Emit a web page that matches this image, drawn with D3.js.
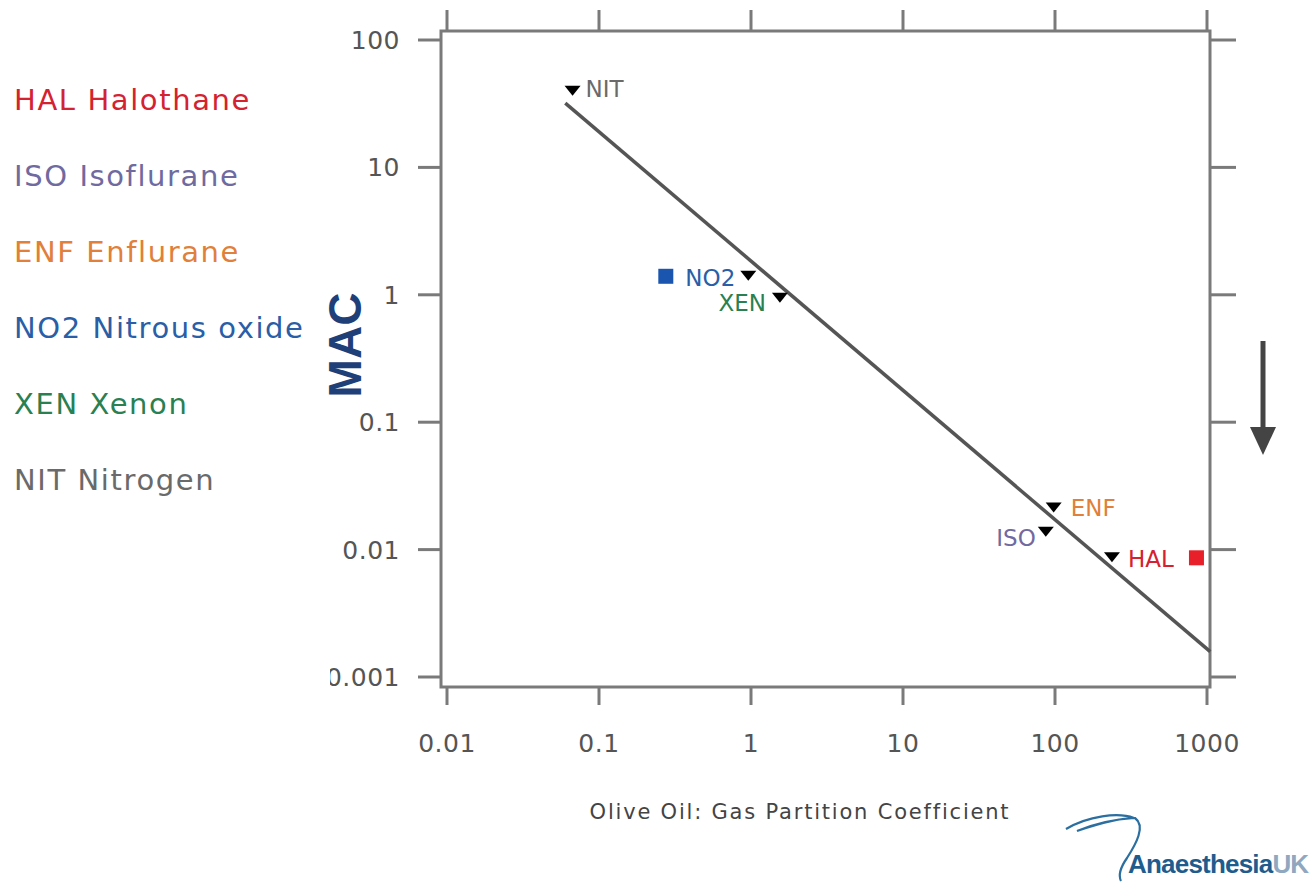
<!DOCTYPE html>
<html>
<head>
<meta charset="utf-8">
<script src="https://cdn.jsdelivr.net/npm/d3@7"></script>
<style>
  body { margin: 0; background: #fff; }
  svg { display: block; }
</style>
</head>
<body>
<div id="main"></div>
<script>
// gases: code, name, olive oil:gas partition coefficient, MAC
const codes = ["HAL", "ISO", "ENF", "NO2", "XEN", "NIT"];
const names = ["Halothane", "Isoflurane", "Enflurane", "Nitrous oxide", "Xenon", "Nitrogen"];
const partition = [237, 87, 98, 0.96, 1.55, 0.067];
const mac = [0.0087, 0.0138, 0.0214, 1.41, 0.95, 40];
const colors = ["#d42230", "#6f6aa0", "#e0803a", "#2a5ea6", "#2a8050", "#6a6a6a"];

// Meyer-Overton fit line end points
const fitX = [0.06, 1050];
const fitY = [32, 0.00158];

const xTicks = [0.01, 0.1, 1, 10, 100, 1000];
const yTicks = [100, 10, 1, 0.1, 0.01, 0.001];
const xTickLabels = ["0.01", "0.1", "1", "10", "100", "1000"];
const yTickLabels = ["100", "10", "1", "0.1", "0.01", "0.001"];

const width = 1316;
const height = 882;

const x = d3.scaleLog().domain([0.01, 1000]).range([447, 1207]);
const y = d3.scaleLog().domain([100, 0.001]).range([40, 677]);

const frame = { left: 441, right: 1210, top: 31, bottom: 687 };
const axisColor = "#7a7a7a";
const labelFont = "'DejaVu Sans', Verdana, sans-serif";

const svg = d3.select("#main")
  .append("svg")
  .attr("width", width)
  .attr("height", height);

// ticks on all four sides
svg.append("g")
  .selectAll("line")
  .data(xTicks)
  .enter()
  .append("line")
  .attr("x1", d => x(d)).attr("x2", d => x(d))
  .attr("y1", frame.top - 21).attr("y2", frame.top)
  .attr("stroke", axisColor).attr("stroke-width", 3);

svg.append("g")
  .selectAll("line")
  .data(xTicks)
  .enter()
  .append("line")
  .attr("x1", d => x(d)).attr("x2", d => x(d))
  .attr("y1", frame.bottom).attr("y2", frame.bottom + 18)
  .attr("stroke", axisColor).attr("stroke-width", 3);

svg.append("g")
  .selectAll("line")
  .data(yTicks)
  .enter()
  .append("line")
  .attr("x1", frame.left - 23).attr("x2", frame.left)
  .attr("y1", d => y(d)).attr("y2", d => y(d))
  .attr("stroke", axisColor).attr("stroke-width", 3);

svg.append("g")
  .selectAll("line")
  .data(yTicks)
  .enter()
  .append("line")
  .attr("x1", frame.right).attr("x2", frame.right + 26)
  .attr("y1", d => y(d)).attr("y2", d => y(d))
  .attr("stroke", axisColor).attr("stroke-width", 3);

svg.append("rect")
  .attr("x", frame.left).attr("y", frame.top)
  .attr("width", frame.right - frame.left)
  .attr("height", frame.bottom - frame.top)
  .attr("fill", "none")
  .attr("stroke", axisColor)
  .attr("stroke-width", 3);

// tick labels
svg.append("g")
  .selectAll("text")
  .data(xTicks)
  .enter()
  .append("text")
  .attr("x", d => x(d))
  .attr("y", 752)
  .attr("text-anchor", "middle")
  .attr("font-family", labelFont)
  .attr("font-size", 25)
  .attr("letter-spacing", 0.5)
  .attr("fill", "#555")
  .text((d, i) => xTickLabels[i]);

svg.append("g")
  .selectAll("text")
  .data(yTicks)
  .enter()
  .append("text")
  .attr("x", 400)
  .attr("y", d => y(d) + 9)
  .attr("text-anchor", "end")
  .attr("font-family", labelFont)
  .attr("font-size", 25)
  .attr("letter-spacing", 0.5)
  .attr("fill", "#555")
  .text((d, i) => yTickLabels[i]);

svg.append("text")
  .attr("x", 800)
  .attr("y", 819)
  .attr("text-anchor", "middle")
  .attr("font-family", labelFont)
  .attr("font-size", 21)
  .attr("letter-spacing", 1.8)
  .attr("fill", "#444")
  .text("Olive Oil: Gas Partition Coefficient");

// fit line
const line = d3.line()
  .x(d => x(d[0]))
  .y(d => y(d[1]));

svg.append("path")
  .datum(fitX.map((v, i) => [v, fitY[i]]))
  .attr("d", line)
  .attr("fill", "none")
  .attr("stroke", "#555")
  .attr("stroke-width", 3.5);

// points
const pts = codes.map((c, i) => ({ code: c, x: partition[i], y: mac[i], color: colors[i] }));

svg.append("g")
  .selectAll("path")
  .data(pts)
  .enter()
  .append("path")
  .attr("transform", d => `translate(${x(d.x)},${y(d.y)})`)
  .attr("d", "M-8,-5L8,-5L0,5Z")
  .attr("fill", "#000");

// point labels: offsets relative to marker
const labelPos = {
  HAL: { dx: 16, dy: 10, anchor: "start", square: 84, sqColor: "#e8202a" },
  ISO: { dx: -10, dy: 14, anchor: "end" },
  ENF: { dx: 17, dy: 8, anchor: "start" },
  NO2: { dx: -13, dy: 10, anchor: "end", square: -83, sqColor: "#1a56b0" },
  XEN: { dx: -14, dy: 13, anchor: "end" },
  NIT: { dx: 13, dy: 6, anchor: "start" }
};

svg.append("g")
  .selectAll("text")
  .data(pts)
  .enter()
  .append("text")
  .attr("x", d => x(d.x) + labelPos[d.code].dx)
  .attr("y", d => y(d.y) + labelPos[d.code].dy)
  .attr("text-anchor", d => labelPos[d.code].anchor)
  .attr("font-family", labelFont)
  .attr("font-size", 23)
  .attr("fill", d => d.color)
  .text(d => d.code);

svg.append("g")
  .selectAll("rect")
  .data(pts.filter(d => labelPos[d.code].square !== undefined))
  .enter()
  .append("rect")
  .attr("x", d => x(d.x) + labelPos[d.code].square - 7)
  .attr("y", d => y(d.y) - 7)
  .attr("width", 15)
  .attr("height", 15)
  .attr("fill", d => labelPos[d.code].sqColor);

// white panel over the far left (legend area)
svg.append("rect")
  .attr("x", 0).attr("y", 0)
  .attr("width", 330).attr("height", 700)
  .attr("fill", "#fff");

// legend
svg.append("g")
  .selectAll("text")
  .data(pts)
  .enter()
  .append("text")
  .attr("x", 14)
  .attr("y", (d, i) => 110 + i * 76)
  .attr("font-family", labelFont)
  .attr("font-size", 29)
  .attr("letter-spacing", 1.6)
  .attr("fill", d => d.color)
  .text((d, i) => d.code + " " + names[i]);

// y title
svg.append("text")
  .attr("transform", "translate(361,345) rotate(-90)")
  .attr("text-anchor", "middle")
  .attr("font-family", "'Liberation Sans', Arial, sans-serif")
  .attr("font-weight", "bold")
  .attr("font-size", 46)
  .attr("fill", "#1e3f78")
  .text("MAC");

// arrow on the right
svg.append("line")
  .attr("x1", 1263).attr("x2", 1263)
  .attr("y1", 341).attr("y2", 430)
  .attr("stroke", "#444").attr("stroke-width", 5);
svg.append("path")
  .attr("d", "M1250,427L1276,427L1263,455Z")
  .attr("fill", "#444");

// logo
const logo = svg.append("g");
logo.append("path")
  .attr("d", "M1066,829 C1088,816 1118,812 1134,818 C1116,819 1096,823 1077,831 M1077,831 C1098,824 1120,818 1135,818 C1146,826 1136,844 1127,858 C1120,868 1118,875 1121,881")
  .attr("fill", "none")
  .attr("stroke", "#2b6ea0")
  .attr("stroke-width", 2.2);
const logoText = logo.append("text")
  .attr("x", 1128)
  .attr("y", 873)
  .attr("font-family", "'Liberation Sans', Arial, sans-serif")
  .attr("font-weight", "bold")
  .attr("font-size", 26)
  .attr("letter-spacing", -0.8);
logoText.append("tspan").attr("fill", "#1e5c8e").text("Anaesthesia");
logoText.append("tspan").attr("fill", "#8fa7bf").text("UK");
</script>
</body>
</html>
